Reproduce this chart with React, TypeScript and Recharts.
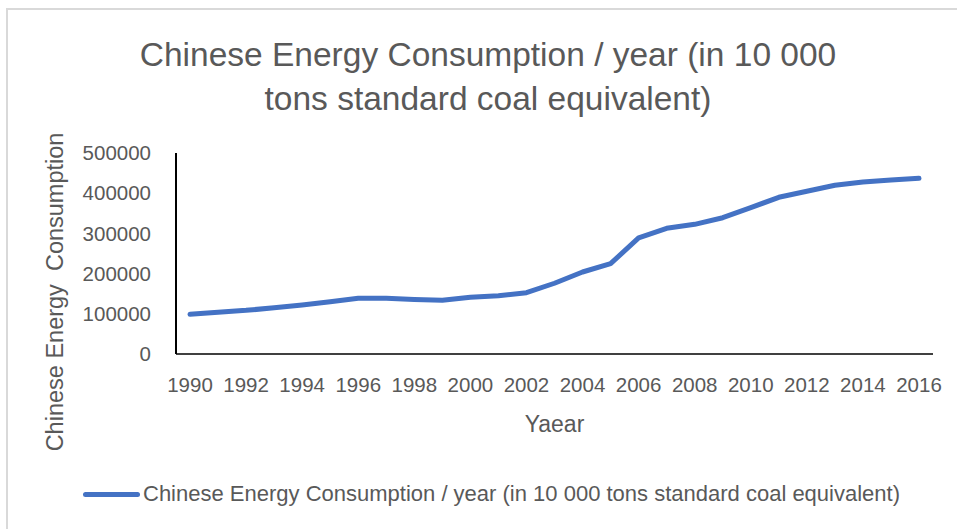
import { Line, LineChart, XAxis, YAxis } from "recharts";

const years = [
  "1990", "1991", "1992", "1993", "1994", "1995", "1996", "1997", "1998",
  "1999", "2000", "2001", "2002", "2003", "2004", "2005", "2006", "2007",
  "2008", "2009", "2010", "2011", "2012", "2013", "2014", "2015", "2016",
];

const consumption = [
  98700, 103800, 108600, 115000, 122000, 130000, 138500, 138500, 135500,
  133500, 141000, 145000, 152500, 176000, 204000, 224600, 289000, 312700,
  322600, 339000, 364000, 389800, 405000, 419600, 428000, 433000, 437000,
];

const yTicks = [0, 100000, 200000, 300000, 400000, 500000];

const seriesName =
  "Chinese Energy Consumption / year (in 10 000 tons standard coal equivalent)";
const titleLines = ["Chinese Energy Consumption / year (in 10 000", "tons standard coal equivalent)"];
const yAxisTitle = "Chinese Energy\u00a0\u00a0Consumption";
const xAxisTitle = "Yaear";

const data = years.map((year, i) => ({ year, value: consumption[i] }));

const FONT = "'Liberation Sans', Arial, sans-serif";
const TEXT = "#595959";
const BLUE = "#4472C4";

export default function App() {
  return (
    <div
      style={{
        position: "absolute",
        left: 0,
        top: 0,
        width: 957,
        height: 529,
        background: "#fff",
        fontFamily: FONT,
        overflow: "hidden",
      }}
    >
      <div
        style={{
          position: "absolute",
          left: 6,
          top: 8,
          width: 951,
          height: 521,
          borderTop: "2px solid #d9d9d9",
          borderLeft: "2px solid #d9d9d9",
          boxSizing: "border-box",
        }}
      />
      <div
        style={{
          position: "absolute",
          left: 88,
          top: 33,
          width: 800,
          textAlign: "center",
          fontSize: 33.5,
          lineHeight: "44px",
          color: TEXT,
          whiteSpace: "nowrap",
        }}
      >
        {titleLines[0]}
        <br />
        {titleLines[1]}
      </div>
      <LineChart
        width={957}
        height={529}
        data={data}
        margin={{ top: 153, right: 24, left: 0, bottom: 80 }}
        style={{ position: "absolute", left: 0, top: 0 }}
      >
        <XAxis
          dataKey="year"
          height={95}
          interval={1}
          padding={{ left: 14, right: 14 }}
          tickSize={0}
          tickMargin={23}
          tick={{ fill: TEXT, fontSize: 20.5, fontFamily: FONT }}
          axisLine={{ stroke: "#000", strokeWidth: 1.5 }}
          label={(props: any) => {
            const vb = props.viewBox;
            return (
              <text
                x={vb.x + vb.width / 2}
                y={432}
                textAnchor="middle"
                fill={TEXT}
                fontSize={23}
                fontFamily={FONT}
              >
                {xAxisTitle}
              </text>
            );
          }}
        />
        <YAxis
          width={176}
          domain={[0, 500000]}
          ticks={yTicks}
          tickSize={0}
          tickMargin={25}
          tick={{ fill: TEXT, fontSize: 20.5, fontFamily: FONT }}
          axisLine={{ stroke: "#000", strokeWidth: 2 }}
          label={() => (
            <text
              x={63}
              y={292}
              transform="rotate(-90, 63, 292)"
              textAnchor="middle"
              fill={TEXT}
              fontSize={23.5}
              fontFamily={FONT}
            >
              {yAxisTitle}
            </text>
          )}
        />
        <Line
          type="linear"
          dataKey="value"
          name={seriesName}
          stroke={BLUE}
          strokeWidth={5}
          strokeLinecap="round"
          strokeLinejoin="round"
          dot={false}
          activeDot={false}
          isAnimationActive={false}
        />
      </LineChart>
      <div
        style={{
          position: "absolute",
          left: 83,
          top: 482,
          height: 24,
          display: "flex",
          alignItems: "center",
          whiteSpace: "nowrap",
        }}
      >
        <span
          style={{
            display: "inline-block",
            width: 57,
            height: 5,
            borderRadius: 3,
            background: BLUE,
            marginRight: 3,
          }}
        />
        <span style={{ fontSize: 22, color: TEXT }}>{seriesName}</span>
      </div>
    </div>
  );
}
